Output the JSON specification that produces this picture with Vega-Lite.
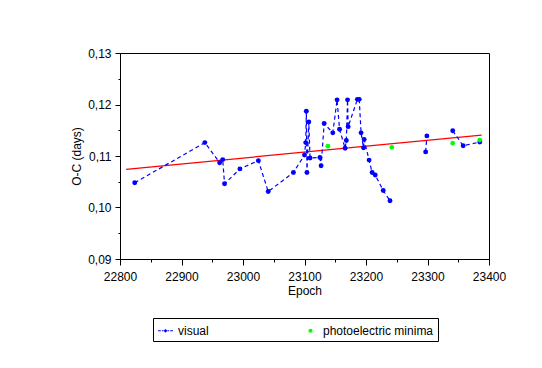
{
  "$schema": "https://vega.github.io/schema/vega-lite/v6.json",
  "width": 369,
  "height": 206,
  "autosize": {"type": "none"},
  "padding": {"left": 120, "top": 53, "right": 53, "bottom": 109},
  "background": "white",
  "config": {
    "view": {"stroke": "black", "strokeWidth": 1},
    "font": "Liberation Sans",
    "axis": {"grid": false, "domainColor": "black", "tickColor": "black", "labelColor": "black", "titleColor": "black", "labelFontSize": 12, "titleFontSize": 12, "titleFontWeight": "normal", "labelFont": "Liberation Sans", "titleFont": "Liberation Sans"},
    "legend": {
      "orient": "none", "legendX": 33, "legendY": 265,
      "direction": "horizontal", "columns": 2,
      "strokeColor": "black", "fillColor": "white", "padding": 4,
      "columnPadding": 93, "labelFontSize": 12, "labelColor": "black", "labelFont": "Liberation Sans",
      "symbolSize": 225, "labelOffset": 4, "labelLimit": 300, "symbolOpacity": 1
    }
  },
  "datasets": {
    "obs": [
      {"epoch": 22824, "oc": 0.1048, "series": "visual", "seg": "a", "ord": 1},
      {"epoch": 22938, "oc": 0.1126, "series": "visual", "seg": "a", "ord": 2},
      {"epoch": 22962, "oc": 0.1087, "series": "visual", "seg": "a", "ord": 3},
      {"epoch": 22967, "oc": 0.1093, "series": "visual", "seg": "a", "ord": 4},
      {"epoch": 22970, "oc": 0.1046, "series": "visual", "seg": "a", "ord": 5},
      {"epoch": 22995, "oc": 0.1075, "series": "visual", "seg": "a", "ord": 6},
      {"epoch": 23025, "oc": 0.1091, "series": "visual", "seg": "a", "ord": 7},
      {"epoch": 23041, "oc": 0.1031, "series": "visual", "seg": "a", "ord": 8},
      {"epoch": 23082, "oc": 0.1068, "series": "visual", "seg": "a", "ord": 9},
      {"epoch": 23100, "oc": 0.1102, "series": "visual", "seg": "a", "ord": 10},
      {"epoch": 23102, "oc": 0.1126, "series": "visual", "seg": "a", "ord": 11},
      {"epoch": 23103, "oc": 0.1187, "series": "visual", "seg": "a", "ord": 12},
      {"epoch": 23104, "oc": 0.1068, "series": "visual", "seg": "a", "ord": 13},
      {"epoch": 23107, "oc": 0.1166, "series": "visual", "seg": "a", "ord": 14},
      {"epoch": 23109, "oc": 0.1096, "series": "visual", "seg": "a", "ord": 15},
      {"epoch": 23125, "oc": 0.1097, "series": "visual", "seg": "a", "ord": 16},
      {"epoch": 23127, "oc": 0.1081, "series": "visual", "seg": "a", "ord": 17},
      {"epoch": 23132, "oc": 0.1163, "series": "visual", "seg": "a", "ord": 18},
      {"epoch": 23146, "oc": 0.1145, "series": "visual", "seg": "a", "ord": 19},
      {"epoch": 23153, "oc": 0.1209, "series": "visual", "seg": "a", "ord": 20},
      {"epoch": 23157, "oc": 0.1152, "series": "visual", "seg": "a", "ord": 21},
      {"epoch": 23166, "oc": 0.1115, "series": "visual", "seg": "a", "ord": 22},
      {"epoch": 23168, "oc": 0.113, "series": "visual", "seg": "a", "ord": 23},
      {"epoch": 23170, "oc": 0.1209, "series": "visual", "seg": "a", "ord": 24},
      {"epoch": 23171, "oc": 0.1157, "series": "visual", "seg": "a", "ord": 25},
      {"epoch": 23186, "oc": 0.121, "series": "visual", "seg": "a", "ord": 26},
      {"epoch": 23189, "oc": 0.121, "series": "visual", "seg": "a", "ord": 27},
      {"epoch": 23192, "oc": 0.1145, "series": "visual", "seg": "a", "ord": 28},
      {"epoch": 23196, "oc": 0.1116, "series": "visual", "seg": "a", "ord": 29},
      {"epoch": 23197, "oc": 0.1132, "series": "visual", "seg": "a", "ord": 30},
      {"epoch": 23205, "oc": 0.1092, "series": "visual", "seg": "a", "ord": 31},
      {"epoch": 23210, "oc": 0.1068, "series": "visual", "seg": "a", "ord": 32},
      {"epoch": 23215, "oc": 0.1063, "series": "visual", "seg": "a", "ord": 33},
      {"epoch": 23228, "oc": 0.1033, "series": "visual", "seg": "a", "ord": 34},
      {"epoch": 23239, "oc": 0.1013, "series": "visual", "seg": "a", "ord": 35},
      {"epoch": 23297, "oc": 0.1108, "series": "visual", "seg": "b", "ord": 36},
      {"epoch": 23299, "oc": 0.1139, "series": "visual", "seg": "b", "ord": 37},
      {"epoch": 23341, "oc": 0.1149, "series": "visual", "seg": "c", "ord": 38},
      {"epoch": 23358, "oc": 0.112, "series": "visual", "seg": "c", "ord": 39},
      {"epoch": 23385, "oc": 0.1127, "series": "visual", "seg": "c", "ord": 40},
      {"epoch": 23138, "oc": 0.1119, "series": "photoelectric minima", "seg": "p", "ord": 41},
      {"epoch": 23242, "oc": 0.1117, "series": "photoelectric minima", "seg": "p", "ord": 42},
      {"epoch": 23341, "oc": 0.1125, "series": "photoelectric minima", "seg": "p", "ord": 43},
      {"epoch": 23385, "oc": 0.1131, "series": "photoelectric minima", "seg": "p", "ord": 44}
    ],
    "fit": [
      {"epoch": 22810, "oc": 0.10742},
      {"epoch": 23388, "oc": 0.11407}
    ]
  },
  "encoding": {
    "x": {
      "field": "epoch", "type": "quantitative",
      "scale": {"domain": [22800, 23400], "nice": false, "zero": false},
      "axis": {
        "title": "Epoch",
        "values": [22800, 22850, 22900, 22950, 23000, 23050, 23100, 23150, 23200, 23250, 23300, 23350, 23400],
        "format": "d",
        "labelExpr": "datum.value % 100 == 0 ? datum.label : ''",
        "tickSize": {"condition": {"test": "datum.value % 100 == 0", "value": 6}, "value": 3},
        "labelPadding": 6, "titlePadding": 3, "labelFlush": false, "labelOverlap": false
      }
    },
    "y": {
      "field": "oc", "type": "quantitative",
      "scale": {"domain": [0.09, 0.13], "nice": false, "zero": false},
      "axis": {
        "title": "O-C (days)",
        "values": [0.09, 0.095, 0.1, 0.105, 0.11, 0.115, 0.12, 0.125, 0.13],
        "labelExpr": "abs(datum.value * 100 - round(datum.value * 100)) < 0.001 ? replace(format(datum.value, '.2f'), '.', ',') : ''",
        "tickSize": {"condition": {"test": "abs(datum.value * 100 - round(datum.value * 100)) < 0.001", "value": 5}, "value": 2},
        "labelPadding": 4, "titlePadding": 4, "labelFlush": false, "labelOverlap": false
      }
    }
  },
  "layer": [
    {
      "data": {"name": "fit"},
      "mark": {"type": "line", "color": "#ff0000", "strokeWidth": 1.2}
    },
    {
      "data": {"name": "obs"},
      "transform": [{"filter": "datum.series == 'visual'"}],
      "mark": {"type": "line", "color": "#0000ff", "strokeDash": [4, 3], "strokeWidth": 1.2},
      "encoding": {"detail": {"field": "seg"}, "order": {"field": "ord"}}
    },
    {
      "data": {"name": "obs"},
      "transform": [{"filter": "datum.series == 'visual'"}],
      "mark": {"type": "point", "filled": true, "size": 24, "opacity": 1, "shape": "circle", "color": "#0000ff"}
    },
    {
      "data": {"name": "obs"},
      "transform": [{"filter": "datum.series != 'visual'"}],
      "mark": {"type": "point", "filled": true, "size": 22, "opacity": 1, "shape": "circle", "color": "#00ff00"}
    },
    {
      "data": {"name": "obs"},
      "mark": {"type": "point", "filled": true, "size": 24, "opacity": 0},
      "encoding": {
        "color": {
          "field": "series", "type": "nominal",
          "scale": {"domain": ["visual", "photoelectric minima"], "range": ["#0000ff", "#00ff00"]},
          "legend": {"title": null, "orient": "none", "legendX": 33, "legendY": 265, "direction": "horizontal", "columns": 2}
        },
        "shape": {
          "field": "series", "type": "nominal",
          "scale": {"domain": ["visual", "photoelectric minima"], "range": ["M-1,-0.07H-0.62V0.07H-1Z M-0.48,-0.07H-0.27V0.07H-0.48Z M-0.25,0L0,-0.25L0.25,0L0,0.25Z M0.27,-0.07H0.48V0.07H0.27Z M0.62,-0.07H1V0.07H0.62Z", "M-0.27,0A0.27,0.27,0,1,0,0.27,0A0.27,0.27,0,1,0,-0.27,0Z"]},
          "legend": {"title": null, "orient": "none", "legendX": 33, "legendY": 265, "direction": "horizontal", "columns": 2}
        }
      }
    }
  ]
}
